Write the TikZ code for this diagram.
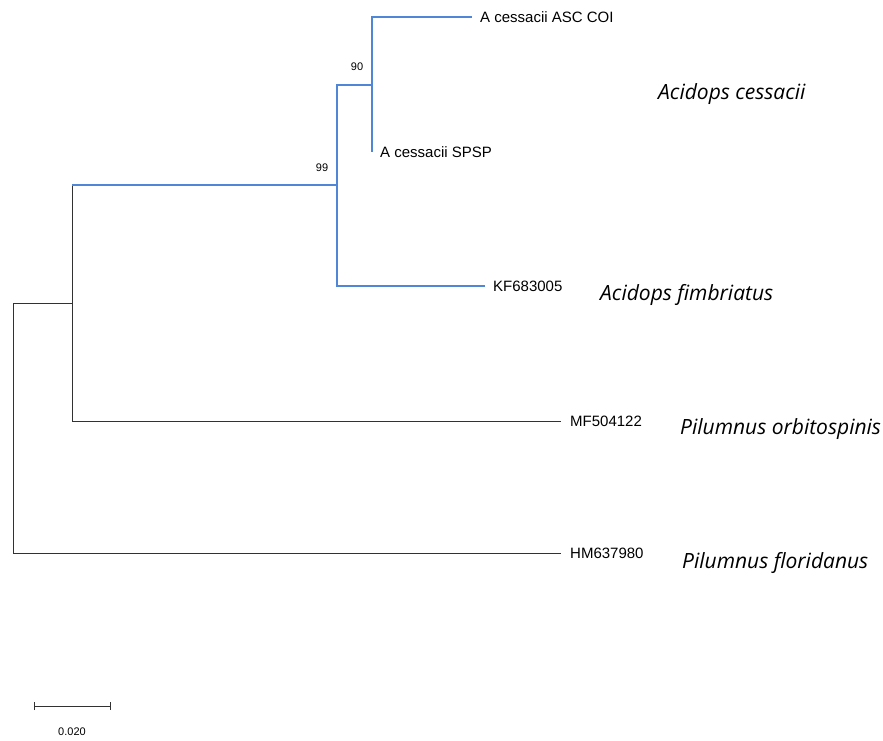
\documentclass[tikz,border=0pt]{standalone}
\usepackage{fontspec}
\setmainfont{Liberation Sans}
\newfontfamily\speciesfont{Open Sans}
\usepackage{tikz}
\usetikzlibrary{arrows.meta}
\definecolor{cladeblue}{RGB}{79, 134, 214}
\definecolor{branchgray}{RGB}{50, 50, 50}

\tikzset{
    branch/.style   = {draw=branchgray, line width=0.9pt},
    bluebranch/.style = {draw=cladeblue, line width=1.6pt},
    tiplab/.style   = {anchor=west, inner sep=0pt, font=\fontsize{15}{17}\selectfont},
    bootlab/.style  = {inner sep=0pt, font=\fontsize{11}{13}\selectfont},
    species/.style  = {anchor=west, inner sep=0pt, font=\speciesfont\itshape\fontsize{21}{25}\selectfont}
}

\begin{document}
\begin{tikzpicture}[x=1pt, y=-1pt]
            \useasboundingbox (0,0) rectangle (883,740);
            % internal nodes and tips
            \coordinate (root)  at ( 13, 303);
            \coordinate (inner) at ( 72, 303);
            \coordinate (n99)   at (337, 185);
            \coordinate (n90)   at (372,  85);
            \coordinate (asc)   at (472,  17);
            \coordinate (spsp)  at (372, 152);
            \coordinate (kf)    at (485, 286);
            \coordinate (mf)    at (561, 421);
            \coordinate (hm)    at (561, 553);
            % branches
            \draw[branch]     (root) -- (inner);
            \draw[branch]     (root) |- (hm);
            \draw[branch]     (inner) |- (mf);
            \draw[branch]     (inner) -- (inner |- n99);
            \draw[bluebranch] (inner |- n99) -- (n99);
            \draw[bluebranch] (n99) |- (kf);
            \draw[bluebranch] (n99) |- (n90);
            \draw[bluebranch] (n90) |- (asc);
            \draw[bluebranch] (n90) |- (spsp);
            % tip labels
            \node[tiplab, xshift=8pt] (ascl)  at (asc)  {A cessacii ASC COI};
            \node[tiplab, xshift=8pt] (spspl) at (spsp) {A cessacii SPSP};
            \node[tiplab, xshift=8pt] (kfl)   at (kf)   {KF683005};
            \node[tiplab, xshift=9pt] (mfl)   at (mf)   {MF504122};
            \node[tiplab, xshift=9pt] (hml)   at (hm)   {HM637980};
            % bootstrap values
            \node[bootlab] (b90) at (357,  67) {90};
            \node[bootlab] (b99) at (322, 168) {99};
            % species names
            \node[species] (cess)  at (658,  94) {Acidops cessacii};
            \node[species] (fimb)  at (600, 295) {Acidops fimbriatus};
            \node[species] (orbit) at (680, 429) {Pilumnus orbitospinis};
            \node[species] (flor)  at (682, 563) {Pilumnus floridanus};
            % scale bar
            \coordinate (sbl) at ( 34, 706);
            \coordinate (sbr) at (111, 706);
            \draw[branch, line width=0.9pt, {Bar[width=8pt]}-{Bar[width=8pt]}] (sbl) -- (sbr);
            \node[bootlab] (sbt) at (72, 732) {0.020};
        \end{tikzpicture}
\end{document}
